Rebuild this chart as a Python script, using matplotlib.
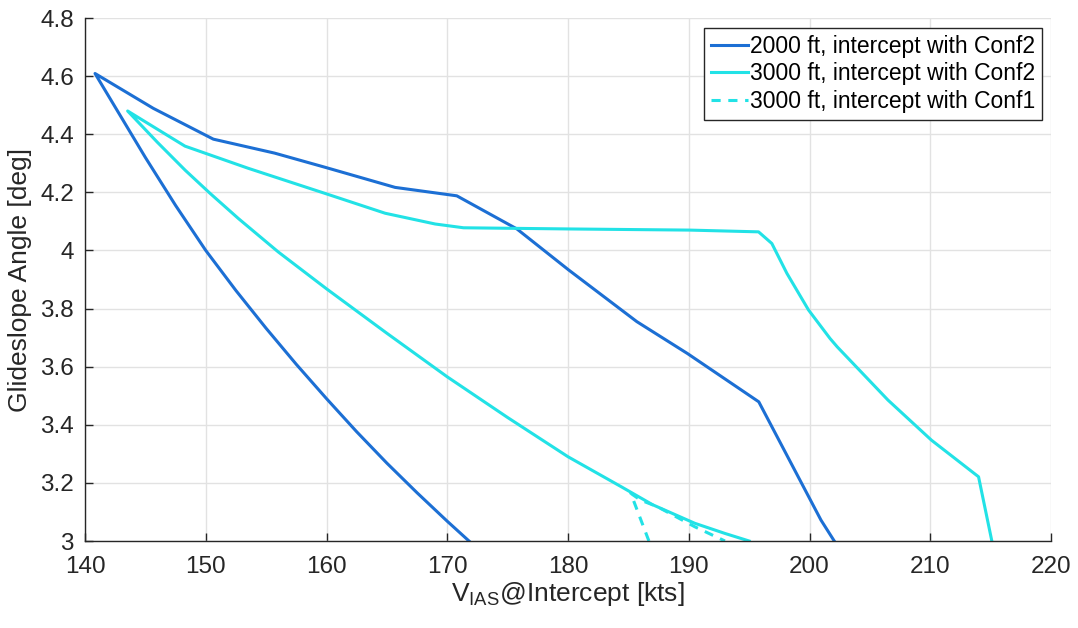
import matplotlib
matplotlib.use("Agg")
import matplotlib.pyplot as plt
from matplotlib.ticker import FuncFormatter

# 2000 ft, intercept with Conf2 (lower branch then upper branch)
v_2000 = [171.8, 170.0, 167.5, 165.0, 162.5, 160.0, 157.5, 155.0, 152.5, 150.0,
          147.5, 145.0, 140.83,
          145.66, 150.63, 155.7, 159.9, 165.68, 170.79, 175.77, 180.05,
          185.7, 189.9, 195.8, 200.95, 202.05]
g_2000 = [3.0, 3.068, 3.166, 3.268, 3.376, 3.49, 3.608, 3.732, 3.862, 4.0,
          4.155, 4.32, 4.609,
          4.489, 4.383, 4.335, 4.286, 4.217, 4.188, 4.074, 3.933,
          3.755, 3.645, 3.479, 3.072, 3.0]

# 3000 ft, intercept with Conf2
v_3000c2 = [195.0, 193.0, 190.5, 187.0, 184.4, 180.0, 175.0, 170.0, 165.0,
            160.0, 156.0, 152.7, 150.37, 148.3, 146.0, 143.53,
            148.28, 153.5, 159.9, 164.86, 169.0, 171.35, 180.0, 190.1, 195.78,
            196.88, 198.13, 199.92, 201.7, 202.3, 206.5, 210.1, 214.0, 215.1]
g_3000c2 = [3.0, 3.026, 3.061, 3.125, 3.187, 3.29, 3.425, 3.565, 3.715,
            3.868, 3.995, 4.11, 4.196, 4.276, 4.372, 4.48,
            4.359, 4.283, 4.196, 4.128, 4.091, 4.078, 4.074, 4.07, 4.064,
            4.024, 3.921, 3.795, 3.697, 3.668, 3.485, 3.347, 3.221, 3.0]

# 3000 ft, intercept with Conf1
v_3000c1 = [186.7, 185.2, 186.0, 187.4, 190.5, 193.0]
g_3000c1 = [3.0, 3.164, 3.141, 3.118, 3.049, 3.0]

labels = ["2000 ft, intercept with Conf2",
          "3000 ft, intercept with Conf2",
          "3000 ft, intercept with Conf1"]

x_ticks = [140, 150, 160, 170, 180, 190, 200, 210, 220]
y_ticks = [3.0, 3.2, 3.4, 3.6, 3.8, 4.0, 4.2, 4.4, 4.6, 4.8]

blue = "#1c6fd4"
cyan = "#22e2e6"

plt.rcParams['font.family'] = ['Liberation Sans', 'DejaVu Sans']

fig = plt.figure(figsize=(10.78, 6.28), dpi=100)
ax = fig.add_axes([85/1078, 1-541/628, (1051-85)/1078, (541-18)/628])

ax.plot(v_2000, g_2000, color=blue, lw=2.2, label=labels[0])
ax.plot(v_3000c2, g_3000c2, color=cyan, lw=2.2, label=labels[1])
ax.plot(v_3000c1, g_3000c1, color=cyan, lw=2.2, ls=(0, (3, 2.5)), label=labels[2])

ax.set_xlim(140, 220)
ax.set_ylim(3.0, 4.8)
ax.set_xticks(x_ticks)
ax.set_yticks(y_ticks)
ax.yaxis.set_major_formatter(FuncFormatter(lambda v, p: "%g" % round(v, 2)))

ax.grid(True, color="#e2e2e2", lw=1.0)
ax.set_axisbelow(True)
for s in ["top", "right"]:
    ax.spines[s].set_visible(False)
for s in ["left", "bottom"]:
    ax.spines[s].set_color("#262626")
    ax.spines[s].set_linewidth(1.0)
ax.tick_params(direction="in", length=6, width=1.0, colors="#262626",
               labelsize=17.5, labelcolor="#262626")
ax.tick_params(axis="x", pad=11)
ax.tick_params(axis="y", pad=8)

ax.set_xlabel(r"V$_\mathregular{IAS}$@Intercept [kts]", fontsize=19, color="#262626", labelpad=1)
ax.set_ylabel("Glideslope Angle [deg]", fontsize=19, color="#262626", labelpad=6)

leg = ax.legend(loc="upper right", fontsize=16.5,
                frameon=True, fancybox=False, framealpha=1, edgecolor="#262626",
                handlelength=1.6, handletextpad=0.1, borderpad=0.3, labelspacing=0.2,
                borderaxespad=0.0)
leg.get_frame().set_linewidth(1.0)
leg.set_bbox_to_anchor((1042/1078, 1-28/628), transform=fig.transFigure)

fig.savefig("out.png", dpi=100, facecolor="white")
